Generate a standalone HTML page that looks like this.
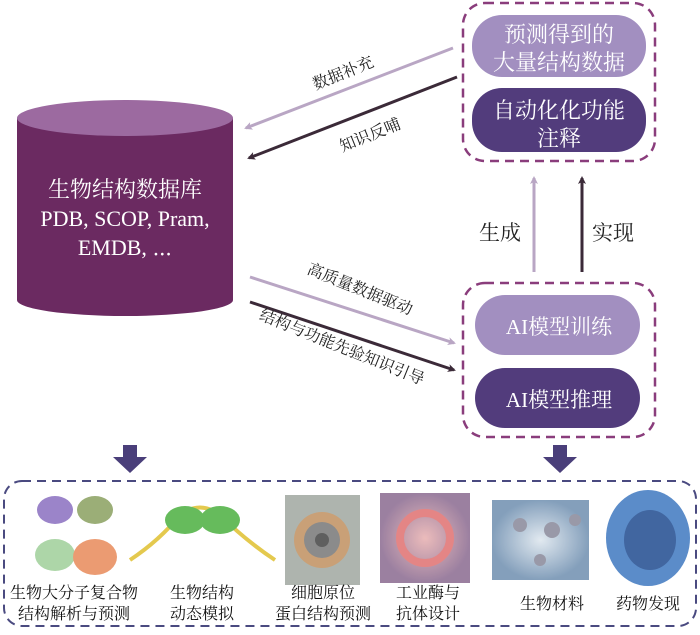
<!DOCTYPE html>
<html><head><meta charset="utf-8"><style>
body{margin:0;background:#fff}
svg text{font-family:"Liberation Serif","Noto Serif CJK SC","Noto Sans CJK SC",serif}
</style></head><body>
<svg width="700" height="630" viewBox="0 0 700 630" xmlns="http://www.w3.org/2000/svg">
<defs>
<marker id="al" markerWidth="8" markerHeight="8" refX="6" refY="4" orient="auto" markerUnits="userSpaceOnUse"><path d="M0,0 L8,4 L0,8 L2,4z" fill="#b9a6c4"/></marker>
<marker id="ad" markerWidth="8" markerHeight="8" refX="6" refY="4" orient="auto" markerUnits="userSpaceOnUse"><path d="M0,0 L8,4 L0,8 L2,4z" fill="#3b2a38"/></marker>
<radialGradient id="g4"><stop offset="0" stop-color="#e8b0b0"/><stop offset="1" stop-color="#8a6a90"/></radialGradient>
<radialGradient id="g5"><stop offset="0" stop-color="#dde6ee"/><stop offset="1" stop-color="#6f8fb0"/></radialGradient>
</defs>
<rect x="463" y="3" width="192" height="158" rx="22" fill="none" stroke="#8a3d7c" stroke-width="2.5" stroke-dasharray="9,6"/>
<rect x="472" y="15" width="174" height="62" rx="30" fill="#a28fc0"/>
<text x="559" y="42" font-size="22" fill="#fff" text-anchor="middle">预测得到的</text>
<text x="559" y="70" font-size="22" fill="#fff" text-anchor="middle">大量结构数据</text>
<rect x="472" y="88" width="174" height="64" rx="30" fill="#523c7c"/>
<text x="559" y="118" font-size="22" fill="#fff" text-anchor="middle">自动化化功能</text>
<text x="559" y="146" font-size="22" fill="#fff" text-anchor="middle">注释</text>
<path d="M17,118 L17,300 A108,16 0 0 0 233,300 L233,118 Z" fill="#6b2a61"/>
<ellipse cx="125" cy="118" rx="108" ry="18" fill="#9c6aa0"/>
<text x="125" y="197" font-size="22" fill="#fff" text-anchor="middle">生物结构数据库</text>
<text x="125" y="226" font-size="22" fill="#fff" text-anchor="middle">PDB, SCOP, Pram,</text>
<text x="125" y="255" font-size="22" fill="#fff" text-anchor="middle">EMDB, ⋯</text>
<line x1="453" y1="48" x2="246" y2="128" stroke="#b9a6c4" stroke-width="3" marker-end="url(#al)"/>
<line x1="457" y1="77" x2="249" y2="158" stroke="#3b2a38" stroke-width="3" marker-end="url(#ad)"/>
<text x="0" y="0" font-size="16" fill="#222" text-anchor="middle" transform="translate(345,78) rotate(-22)">数据补充</text>
<text x="0" y="0" font-size="16" fill="#222" text-anchor="middle" transform="translate(372,140) rotate(-22)">知识反哺</text>
<line x1="534" y1="272" x2="534" y2="178" stroke="#b9a6c4" stroke-width="3" marker-end="url(#al)"/>
<line x1="582" y1="272" x2="582" y2="178" stroke="#3b2a38" stroke-width="3" marker-end="url(#ad)"/>
<text x="500" y="240" font-size="21" fill="#222" text-anchor="middle">生成</text>
<text x="613" y="240" font-size="21" fill="#222" text-anchor="middle">实现</text>
<rect x="463" y="283" width="192" height="154" rx="22" fill="none" stroke="#8a3d7c" stroke-width="2.5" stroke-dasharray="9,6"/>
<rect x="475" y="295" width="165" height="60" rx="30" fill="#a28fc0"/>
<text x="559" y="334" font-size="21" fill="#fff" text-anchor="middle">AI模型训练</text>
<rect x="475" y="368" width="165" height="60" rx="30" fill="#523c7c"/>
<text x="559" y="407" font-size="21" fill="#fff" text-anchor="middle">AI模型推理</text>
<line x1="250" y1="277" x2="454" y2="343" stroke="#b9a6c4" stroke-width="3" marker-end="url(#al)"/>
<line x1="250" y1="302" x2="454" y2="370" stroke="#3b2a38" stroke-width="3" marker-end="url(#ad)"/>
<text x="0" y="0" font-size="16" fill="#222" text-anchor="middle" transform="translate(358,294) rotate(22)">高质量数据驱动</text>
<text x="0" y="0" font-size="16" fill="#222" text-anchor="middle" transform="translate(340,352) rotate(22)">结构与功能先验知识引导</text>
<path d="M123,445 h14 v12 h10 l-17,16 l-17,-16 h10z" fill="#4a3f7a"/>
<path d="M553,445 h14 v12 h10 l-17,16 l-17,-16 h10z" fill="#4a3f7a"/>
<rect x="4" y="481" width="692" height="145" rx="18" fill="none" stroke="#4a4a80" stroke-width="2" stroke-dasharray="9,6"/>
<g opacity="0.85">
<ellipse cx="55" cy="510" rx="18" ry="14" fill="#8a6fc0"/><ellipse cx="95" cy="510" rx="18" ry="14" fill="#8aa060"/>
<ellipse cx="55" cy="555" rx="20" ry="16" fill="#9fcf9a"/><ellipse cx="95" cy="557" rx="22" ry="18" fill="#e88a5a"/>
<path d="M130,560 Q160,540 180,515 Q200,500 220,515 Q245,540 275,560" stroke="#e0c030" stroke-width="4" fill="none"/>
<ellipse cx="185" cy="520" rx="20" ry="14" fill="#4cb040"/><ellipse cx="220" cy="520" rx="20" ry="14" fill="#4cb040"/>
<rect x="285" y="495" width="75" height="90" fill="#a0a8a0"/><circle cx="322" cy="540" r="28" fill="#c09060"/><circle cx="322" cy="540" r="18" fill="#777"/><circle cx="322" cy="540" r="7" fill="#444"/>
<rect x="380" y="493" width="90" height="90" fill="url(#g4)"/><circle cx="425" cy="538" r="25" fill="none" stroke="#e07070" stroke-width="8"/>
<rect x="492" y="500" width="97" height="80" fill="url(#g5)"/><circle cx="520" cy="525" r="7" fill="#889"/><circle cx="552" cy="530" r="8" fill="#889"/><circle cx="575" cy="520" r="6" fill="#889"/><circle cx="540" cy="560" r="6" fill="#889"/>
<ellipse cx="648" cy="538" rx="42" ry="48" fill="#3f78c0"/><ellipse cx="650" cy="540" rx="26" ry="30" fill="#204c90"/>
</g>
<g font-size="16" fill="#111" text-anchor="middle">
<text x="74" y="598">生物大分子复合物</text><text x="74" y="619">结构解析与预测</text>
<text x="202" y="598">生物结构</text><text x="202" y="619">动态模拟</text>
<text x="323" y="598">细胞原位</text><text x="323" y="619">蛋白结构预测</text>
<text x="428" y="598">工业酶与</text><text x="428" y="619">抗体设计</text>
<text x="552" y="609">生物材料</text>
<text x="648" y="609">药物发现</text>
</g>
</svg>
</body></html>
